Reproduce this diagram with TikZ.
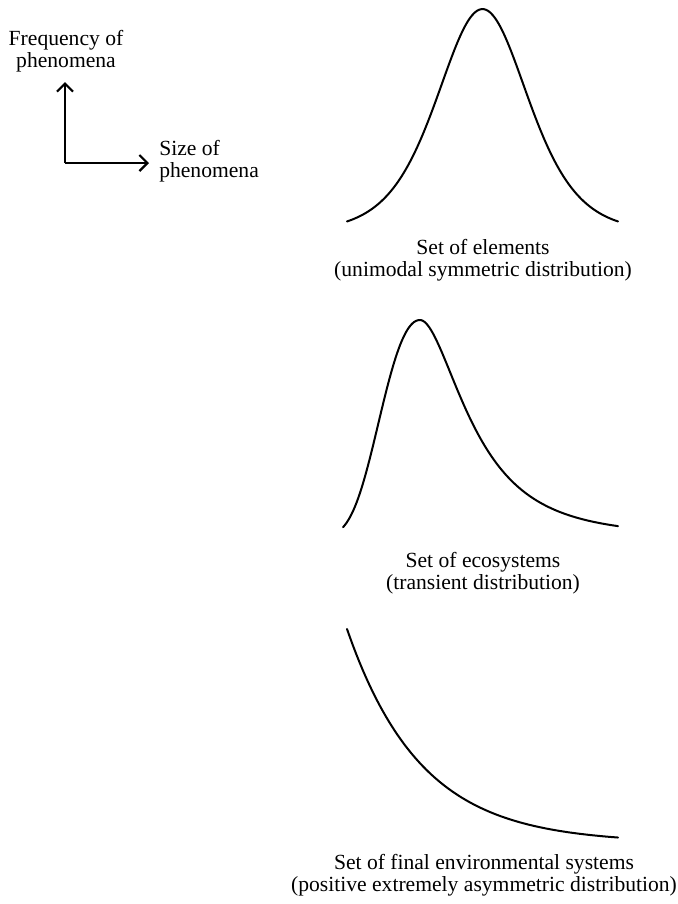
\documentclass[tikz,border=0pt]{standalone}
\usepackage{fontspec}
\setmainfont{Liberation Serif}
\usetikzlibrary{arrows.meta}

\begin{document}
\begin{tikzpicture}[x=0.75pt,y=-0.75pt,
  curve/.style={line width=1.5pt,line cap=round,line join=round},
  axis/.style={line width=2pt,-{Straight Barb[length=6pt,width=12pt,line width=1.6pt]}},
  caption/.style={align=center,font=\fontsize{16.2}{16.5}\selectfont,inner sep=0pt},
  axislabel/.style={font=\fontsize{16.2}{16.5}\selectfont,inner sep=0pt}]
\useasboundingbox (0,0) rectangle (678,904);

% axis legend
\coordinate (origin) at (65,163);
\coordinate (ytip) at (65,82);
\coordinate (xtip) at (149,163);
\draw[axis] (origin) -- (ytip);
\draw[axis] (origin) -- (xtip);
\node[axislabel,align=center] (freq) at (66,51) {Frequency of\\phenomena};
\node[axislabel,align=left,anchor=west] (size) at (159,161) {Size of\\phenomena};

% unimodal symmetric curve (logistic density)
\draw[curve] plot[domain=-135.5:135.5,samples=120,smooth]
  ({482.5+\x},{232-223/(cosh(\x/61.4))^2});
\node[caption] (elements) at (483,260) {Set of elements\\(unimodal symmetric distribution)};

% transient curve (Gumbel-like density, scale growing along the right tail)
\draw[curve] plot[domain=-77:198,samples=160,smooth]
  ({420+\x},{537-217*exp(1-\x/((\x<0)?43.5:(33+0.085*\x))-exp(-\x/((\x<0)?43.5:(33+0.085*\x))))});
\node[caption] (ecosystems) at (483,573) {Set of ecosystems\\(transient distribution)};

% extremely asymmetric curve (exponential decay)
\draw[curve] plot[domain=0:271,samples=100,smooth]
  ({347+\x},{843-214*exp(-\x/74)});
\node[caption] (final) at (484,875) {Set of final environmental systems\\(positive extremely asymmetric distribution)};
\end{tikzpicture}
\end{document}
